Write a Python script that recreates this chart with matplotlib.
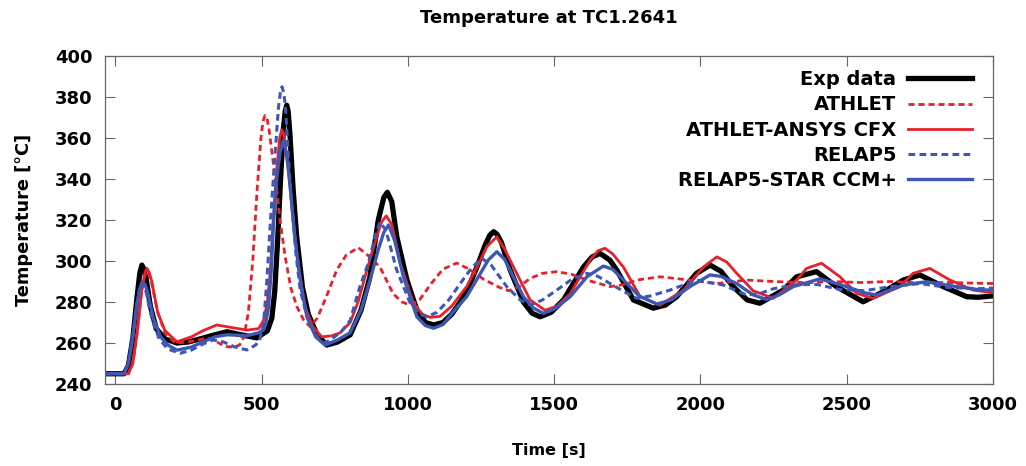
import numpy as np
import matplotlib
matplotlib.use("Agg")
import matplotlib.pyplot as plt

plt.rcParams['font.family'] = ['DejaVu Sans']
plt.rcParams['font.weight'] = 'bold'

title = "Temperature at TC1.2641"
x_label = "Time [s]"
y_label = "Temperature [°C]"
x_ticks = [0, 500, 1000, 1500, 2000, 2500, 3000]
y_ticks = [240, 260, 280, 300, 320, 340, 360, 380, 400]

# (time [s], temperature [°C])
exp_data = [(-35,245),(30,245),(45,249),(60,262),(75,283),(84,294),(91,298),(98,296),
            (105,292),(120,278),(140,267),(170,262),(211,260),(250,260.5),(290,262),
            (340,264),(382,265.5),(430,264),(484,262.5),(520,266),(535,272),(545,285),
            (555,310),(565,340),(575,365),(581,373),(586,376),(591,373),(597,362),
            (608,335),(620,312),(640,287),(660,274),(690,264),(723,259),(760,260.5),
            (803,264),(840,276),(870,292),(899,320),(918,331),(930,333.5),(945,329),
            (962,312),(997,290.7),(1031,276),(1060,270),(1088,268.8),(1120,270),
            (1150,274),(1179,280),(1210,288),(1236,297),(1265,308),(1280,312.5),
            (1293,314.3),(1305,313),(1320,309),(1350,295.6),(1395,280),(1425,274.5),
            (1452,272.8),(1490,275),(1532,281),(1570,290),(1600,297),(1630,302),
            (1657,303.7),(1690,300.5),(1714,295.6),(1771,281),(1839,277),(1880,278.5),
            (1919,282.6),(1987,294),(2033,298),(2070,295),(2112,287.5),(2160,281),
            (2203,279.4),(2283,285.8),(2329,292.3),(2397,294.8),(2465,287.5),
            (2556,280.1),(2636,285.8),(2693,290.7),(2750,293.2),(2830,287.5),
            (2910,282.6),(2950,282.3),(3000,283)]

athlet = [(-35,245),(45,245),(60,250),(75,265),(90,285),(100,292.5),(108,295),(116,293),
          (125,289),(145,275),(170,265),(205,260),(250,260.5),(300,262),(330,262),
          (360,259.5),(382,258.2),(405,258),(425,259),(440,263),(455,275),(470,300),
          (485,335),(498,360),(505,368),(512,371),(518,370),(525,365),(540,348),
          (552,334.6),(565,318),(581,302),(600,287),(621,277.7),(645,271),(666,268),
          (690,272),(720,282),(757,295.6),(790,303),(831,306.5),(870,302),(905,297),
          (950,284),(980,280),(1008,278.5),(1040,281),(1080,289),(1120,296),
          (1167,299),(1210,296),(1260,291),(1315,287),(1345,285.5),(1380,287.5),
          (1418,291.5),(1460,294),(1509,294.8),(1560,293.5),(1612,290.7),(1691,287.5),
          (1740,288.5),(1782,290.7),(1862,292.3),(1964,290.7),(2056,289),(2158,290.7),
          (2250,290),(2363,289.4),(2450,290),(2550,289.5),(2650,290),(2750,289.4),
          (2850,289.5),(3000,289)]

athlet_cfx = [(-35,245),(45,245),(60,250),(75,265),(90,285),(100,293.5),(108,296.5),
              (116,294.5),(125,290),(145,275),(170,266),(211,260.6),(260,263),
              (300,266),(347,268.8),(400,267.5),(450,266.3),(490,267),(507,271),
              (520,280),(530,295),(540,320),(552,345),(562,360),(569,364),(575,362.5),
              (580,358),(595,340),(609,318.5),(629,295),(649,277.7),(675,268),(706,263),
              (740,263.5),(769,265),(803,270),(830,280),(860,295.6),(890,310),(910,319),
              (926,322),(945,318),(974,299),(1019,279.5),(1050,274),(1076,272.5),
              (1110,273),(1150,278),(1201,287.5),(1240,298),(1270,307),(1304,311.8),
              (1330,306),(1372,294),(1418,281),(1469,276),(1510,278),(1555,284),
              (1623,300.5),(1650,305),(1674,306.2),(1700,303.5),(1737,297),(1794,282.6),
              (1862,278.5),(1942,285.8),(2010,297),(2056,302),(2090,299.5),(2124,294),
              (2180,285.5),(2249,281.8),(2329,290.7),(2363,296.4),(2414,298.9),
              (2477,292.3),(2534,284.2),(2591,281.8),(2682,287.5),(2727,294),
              (2784,296.4),(2853,290.7),(2932,285.8),(3000,284.5)]

relap5 = [(-35,245),(30,245),(45,250),(60,263),(75,280),(84,287),(91,289.5),(98,288.5),
          (105,285),(125,272),(150,262),(180,257),(222,255),(260,256.5),(300,259.5),
          (335,261.5),(370,260.5),(410,258),(450,256.6),(480,259),(495,262),
          (507,269.6),(518,290),(530,318.5),(545,350),(558,375),(564,382),(570,385),
          (576,382),(582,375),(592,350),(604,327),(618,303),(632,286),(655,273),
          (677,266),(700,261),(717,260),(745,262.5),(775,266),(803,271),(835,287),
          (865,299),(890,313),(905,319),(925,315),(962,295.6),(1008,279.5),(1040,274),
          (1065,272.8),(1100,275),(1140,281),(1179,289),(1220,297),(1253,301.3),
          (1285,298),(1338,287.5),(1384,281),(1418,278.5),(1460,281),(1509,285.8),
          (1560,291),(1612,294),(1650,292.5),(1691,289),(1740,285),(1782,281.8),
          (1830,283),(1896,285.8),(1987,290.7),(2030,289.5),(2078,288.3),(2158,283.4),
          (2200,284),(2250,286.5),(2330,288.5),(2400,288.5),(2480,286),(2560,285.5),
          (2650,287.5),(2750,289),(2850,287),(2950,286.5),(3000,286.8)]

relap5_star = [(-35,245),(30,245),(45,250),(60,263),(75,280),(86,287.5),(95,289.5),
               (102,288.5),(110,285),(130,272),(155,263),(180,259),(211,256.5),
               (260,258),(300,260.5),(340,263),(382,264),(420,263.8),(450,263.5),
               (490,265),(507,266.5),(515,270),(524,277.7),(533,295),(541,318.5),
               (552,340),(563,353),(575,359),(588,350),(600,333),(615,310),(635,288),
               (655,272.8),(685,263),(717,259),(760,261.5),(803,265),(840,276),
               (871,290.7),(900,306),(918,314),(934,317.6),(955,310),(985,292.3),
               (1031,272.8),(1060,268.5),(1088,267.2),(1120,269),(1160,276),
               (1201,282.6),(1240,292),(1275,300.5),(1304,304.5),(1330,301),(1372,289),
               (1395,282.6),(1430,277),(1463,274.5),(1500,276.5),(1555,282.6),
               (1612,292.3),(1668,297.5),(1700,296),(1737,290.7),(1790,283),(1851,279),
               (1900,281),(1964,287.5),(2033,293.2),(2070,292.5),(2124,289),(2180,283.5),
               (2226,281.2),(2270,283.5),(2317,287.5),(2409,291.3),(2500,287.5),
               (2560,284.5),(2602,283.4),(2693,288.3),(2773,289.9),(2875,287.5),
               (2950,286),(3000,285.8)]

RED = '#e8202a'
BLUE = '#3d58b4'

series = [
    ("Exp data", exp_data, dict(color='black', lw=3.8, ls='-')),
    ("ATHLET", athlet, dict(color=RED, lw=2.0, ls=(0, (2.2, 1.4)))),
    ("ATHLET-ANSYS CFX", athlet_cfx, dict(color=RED, lw=2.0, ls='-')),
    ("RELAP5", relap5, dict(color=BLUE, lw=2.2, ls=(0, (2.2, 1.4)))),
    ("RELAP5-STAR CCM+", relap5_star, dict(color=BLUE, lw=2.4, ls='-')),
]

fig = plt.figure(figsize=(10.26, 4.66), dpi=100)
ax = fig.add_axes([105/1026, 1-384/466, 888/1026, 328/466])

for name, data, style in series:
    arr = np.array(data)
    ax.plot(arr[:, 0], arr[:, 1], label=name, **style)

ax.set_xlim(-35, 3000)
ax.set_ylim(240, 400)
ax.set_xticks(x_ticks)
ax.set_yticks(y_ticks)
ax.tick_params(direction='in', length=7, width=0.8, color='#666666',
               top=True, right=True, labelsize=13, pad=9)
for lab in ax.get_xticklabels() + ax.get_yticklabels():
    lab.set_fontweight('bold')
for sp in ax.spines.values():
    sp.set_color('#666666')
    sp.set_linewidth(0.9)

ax.set_xlabel(x_label, fontsize=11.5, fontweight='bold')
ax.set_ylabel(y_label, fontsize=12.8, fontweight='bold')
ax.xaxis.set_label_coords(0.5, -0.18)
ax.yaxis.set_label_coords(-0.081, 0.5)
fig.text(0.535, 1-18/466, title, ha='center', va='center', fontsize=13, fontweight='bold')

leg = ax.legend(loc='upper right', bbox_to_anchor=(0.976, 0.957), frameon=False,
                markerfirst=False, handlelength=3.3, handletextpad=0.57,
                labelspacing=0.32, borderpad=0, borderaxespad=0,
                prop={'size': 14, 'weight': 'bold'})

fig.savefig("out.png", dpi=100)
